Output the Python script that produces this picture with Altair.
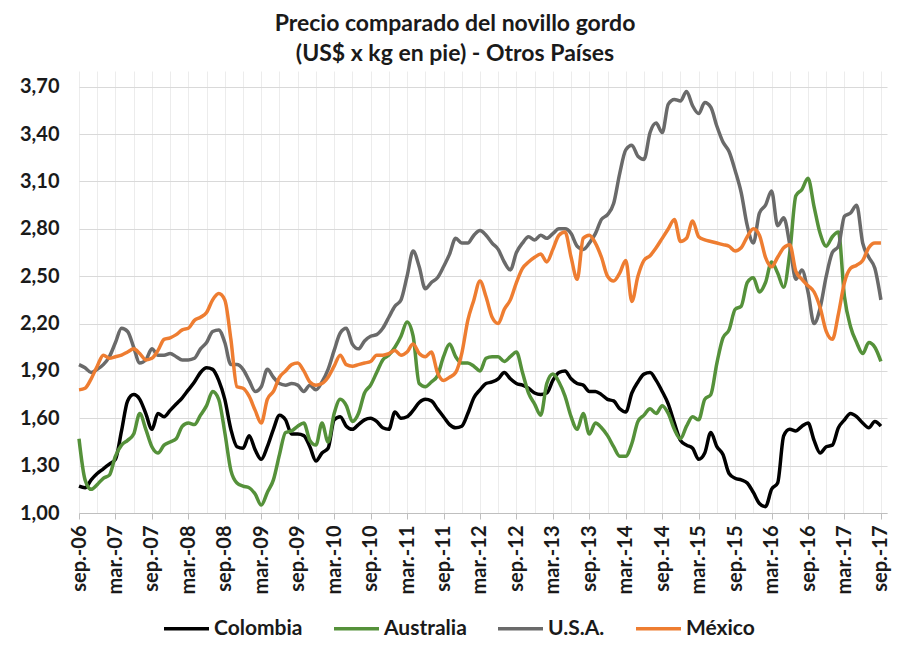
import json
import altair as alt
import pandas as pd

# Monthly series, sep.-06 (index 0) to sep.-17 (index 132), US$ per kg live weight
colombia = [1.17, 1.16, 1.21, 1.25, 1.28, 1.31, 1.34, 1.52, 1.71, 1.75,
            1.72, 1.63, 1.53, 1.63, 1.61, 1.65, 1.69, 1.73, 1.78, 1.83,
            1.89, 1.92, 1.91, 1.84, 1.72, 1.53, 1.42, 1.41, 1.49, 1.40,
            1.34, 1.42, 1.53, 1.62, 1.59, 1.50, 1.50, 1.49, 1.42, 1.33,
            1.38, 1.41, 1.59, 1.61, 1.55, 1.53, 1.56, 1.59, 1.60, 1.58,
            1.54, 1.53, 1.64, 1.60, 1.61, 1.65, 1.70, 1.72, 1.71, 1.66,
            1.61, 1.56, 1.54, 1.55, 1.63, 1.73, 1.78, 1.82, 1.83, 1.85,
            1.89, 1.85, 1.82, 1.81, 1.79, 1.76, 1.75, 1.76, 1.84, 1.89,
            1.90, 1.85, 1.82, 1.81, 1.77, 1.77, 1.75, 1.72, 1.71, 1.66,
            1.64, 1.76, 1.83, 1.88, 1.89, 1.84, 1.77, 1.69, 1.57, 1.46,
            1.43, 1.41, 1.34, 1.38, 1.51, 1.42, 1.37, 1.25, 1.22, 1.21,
            1.19, 1.13, 1.06, 1.04, 1.15, 1.19, 1.49, 1.53, 1.52, 1.55,
            1.57, 1.46, 1.38, 1.42, 1.43, 1.54, 1.59, 1.63, 1.61, 1.57,
            1.54, 1.58, 1.55]
australia = [1.47, 1.21, 1.15, 1.18, 1.22, 1.24, 1.36, 1.43, 1.46, 1.50,
             1.63, 1.53, 1.42, 1.38, 1.43, 1.45, 1.47, 1.55, 1.57, 1.56,
             1.62, 1.68, 1.77, 1.72, 1.51, 1.27, 1.19, 1.17, 1.16, 1.12,
             1.05, 1.13, 1.21, 1.37, 1.51, 1.52, 1.55, 1.57, 1.46, 1.43,
             1.57, 1.45, 1.63, 1.72, 1.68, 1.58, 1.63, 1.76, 1.81, 1.89,
             1.97, 2.00, 2.05, 2.12, 2.21, 2.12, 1.82, 1.80, 1.83, 1.87,
             1.99, 2.07, 1.99, 1.95, 1.95, 1.93, 1.90, 1.98, 1.99, 1.99,
             1.96, 1.99, 2.02, 1.89, 1.76, 1.69, 1.62, 1.82, 1.88, 1.83,
             1.74, 1.61, 1.53, 1.63, 1.50, 1.57, 1.54, 1.49, 1.42, 1.36,
             1.36, 1.44, 1.58, 1.62, 1.66, 1.63, 1.68, 1.63, 1.53, 1.47,
             1.55, 1.61, 1.59, 1.72, 1.75, 1.95, 2.11, 2.16, 2.29, 2.31,
             2.46, 2.49, 2.40, 2.46, 2.59, 2.52, 2.43, 2.65, 3.01, 3.05,
             3.12, 2.94, 2.77, 2.69, 2.75, 2.78, 2.37, 2.18, 2.08, 2.01,
             2.08, 2.05, 1.96]
usa = [1.94, 1.92, 1.89, 1.91, 1.94, 1.99, 2.08, 2.17, 2.15, 2.05,
       1.95, 1.97, 2.04, 2.00, 2.00, 2.01, 1.99, 1.97, 1.97, 1.98,
       2.04, 2.08, 2.15, 2.16, 2.08, 1.94, 1.94, 1.91, 1.84, 1.77,
       1.80, 1.91, 1.86, 1.82, 1.81, 1.82, 1.81, 1.77, 1.81, 1.78,
       1.83, 1.91, 2.03, 2.14, 2.17, 2.07, 2.04, 2.09, 2.12, 2.13,
       2.17, 2.24, 2.31, 2.35, 2.50, 2.66, 2.56, 2.42, 2.46, 2.49,
       2.56, 2.64, 2.74, 2.71, 2.71, 2.76, 2.79, 2.76, 2.71, 2.67,
       2.59, 2.54, 2.65, 2.71, 2.75, 2.73, 2.76, 2.74, 2.77, 2.80,
       2.80, 2.77, 2.69, 2.67, 2.71, 2.77, 2.86, 2.89, 2.96, 3.15,
       3.30, 3.33, 3.26, 3.24, 3.41, 3.47, 3.41, 3.59, 3.62, 3.61,
       3.67, 3.58, 3.53, 3.60, 3.57, 3.45, 3.35, 3.29, 3.17, 3.03,
       2.82, 2.71, 2.90, 2.95, 3.04, 2.82, 2.87, 2.70, 2.48, 2.54,
       2.40, 2.20, 2.30, 2.50, 2.65, 2.69, 2.88, 2.90, 2.95, 2.71,
       2.62, 2.55, 2.35]
mexico = [1.78, 1.79, 1.85, 1.93, 2.00, 1.98, 1.99, 2.00, 2.02, 2.04,
          2.01, 1.97, 1.98, 2.03, 2.10, 2.11, 2.13, 2.16, 2.17, 2.22,
          2.24, 2.27, 2.35, 2.39, 2.35, 2.10, 1.80, 1.79, 1.74, 1.65,
          1.57, 1.72, 1.77, 1.86, 1.90, 1.94, 1.95, 1.90, 1.83, 1.81,
          1.82, 1.86, 1.93, 2.00, 1.94, 1.93, 1.94, 1.95, 1.96, 2.00,
          2.00, 2.01, 2.03, 2.00, 2.02, 2.07, 2.01, 1.99, 2.02, 1.89,
          1.84, 1.86, 1.89, 2.01, 2.22, 2.35, 2.47, 2.37, 2.24, 2.20,
          2.29, 2.35, 2.46, 2.55, 2.59, 2.62, 2.64, 2.59, 2.67, 2.76,
          2.78, 2.62, 2.48, 2.74, 2.76, 2.71, 2.62, 2.50, 2.47, 2.52,
          2.60, 2.34, 2.50, 2.60, 2.63, 2.68, 2.74, 2.80, 2.86, 2.72,
          2.74, 2.85, 2.75, 2.73, 2.72, 2.71, 2.70, 2.69, 2.66, 2.68,
          2.75, 2.80, 2.76, 2.62, 2.56, 2.62, 2.68, 2.70, 2.53, 2.48,
          2.44, 2.40, 2.30, 2.15, 2.10, 2.26, 2.46, 2.55, 2.57, 2.60,
          2.68, 2.71, 2.71]

series_names = ["Colombia", "Australia", "U.S.A.", "México"]
series_values = [colombia, australia, usa, mexico]
series_colors = ["#000000", "#55913a", "#6a6a6a", "#ee7d31"]

tick_labels = ["sep.-06", "mar.-07", "sep.-07", "mar.-08", "sep.-08", "mar.-09",
               "sep.-09", "mar.-10", "sep.-10", "mar.-11", "sep.-11", "mar.-12",
               "sep.-12", "mar.-13", "sep.-13", "mar.-14", "sep.-14", "mar.-15",
               "sep.-15", "mar.-16", "sep.-16", "mar.-17", "sep.-17"]
y_ticks = [1.0, 1.3, 1.6, 1.9, 2.2, 2.5, 2.8, 3.1, 3.4, 3.7]
title_lines = ["Precio comparado del novillo gordo", "(US$ x kg en pie) - Otros Países"]

rows = []
for name, vals in zip(series_names, series_values):
    for m, v in enumerate(vals):
        rows.append({"mes": m, "precio": v, "pais": name})
df = pd.DataFrame(rows)

FONT = "Lato"
label_expr = "datum.value % 6 == 0 ? " + json.dumps(tick_labels) + "[datum.value / 6] : ''"

chart = alt.Chart(df).mark_line(strokeWidth=3.5, interpolate="monotone").encode(
    x=alt.X(
        "mes:Q",
        scale=alt.Scale(domain=[0, 133], nice=False, zero=False),
        axis=alt.Axis(
            values=list(range(0, 133, 3)),
            labelExpr=label_expr,
            labelAngle=-90,
            labelAlign="right",
            labelBaseline="middle",
            labelFont=FONT,
            labelFontSize=20,
            labelFontWeight="bold",
            labelColor="#1a1a1a",
            labelPadding=6,
            labelOverlap=False,
            labelFlush=False,
            tickOpacity={"condition": {"test": "datum.value % 6 == 0", "value": 1}, "value": 0},
            tickSize=6,
            tickColor="#bfbfbf",
            domainColor="#bfbfbf",
            gridColor="#ececec",
            grid=True,
            title=None,
        ),
    ),
    y=alt.Y(
        "precio:Q",
        scale=alt.Scale(domain=[1.0, 3.8], nice=False, zero=False),
        axis=alt.Axis(
            values=y_ticks,
            labelExpr="replace(format(datum.value, '.2f'), '.', ',')",
            labelFont=FONT,
            labelFontSize=20,
            labelFontWeight="bold",
            labelColor="#1a1a1a",
            labelPadding=20,
            domain=False,
            ticks=False,
            gridColor="#d9d9d9",
            title=None,
        ),
    ),
    color=alt.Color(
        "pais:N",
        scale=alt.Scale(domain=series_names, range=series_colors),
        legend=alt.Legend(
            orient="none",
            legendX=83,
            legendY=533,
            direction="horizontal",
            title=None,
            symbolType="stroke",
            symbolSize=2025,
            symbolStrokeWidth=3.5,
            labelFont=FONT,
            labelFontSize=21,
            labelFontWeight="bold",
            labelColor="#1a1a1a",
            labelOffset=3,
            columnPadding=24,
            padding=0,
        ),
    ),
).properties(
    width=808,
    height=442,
    autosize=alt.AutoSizeParams(type="none"),
    padding={"left": 71, "top": 63, "right": 8, "bottom": 127},
    title=alt.TitleParams(
        text=title_lines,
        font=FONT,
        fontSize=23,
        fontWeight="bold",
        color="#1a1a1a",
        lineHeight=30,
        anchor="middle",
        frame="group",
        baseline="bottom",
        offset=7,
        dx=-28,
        dy=25,
    ),
).configure_view(stroke=None)

chart.save("out.html", embed_options={"renderer": "svg", "actions": False})
